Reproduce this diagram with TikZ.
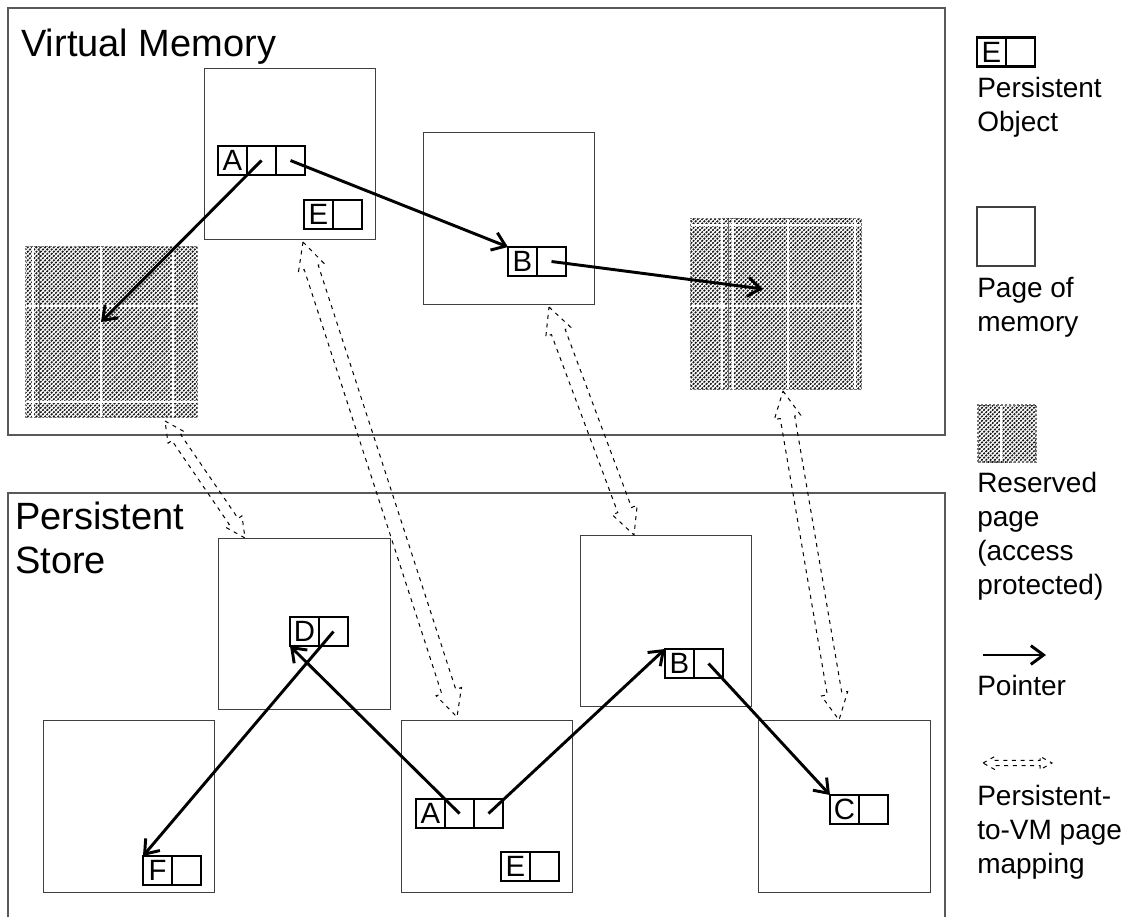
\documentclass[tikz,border=0pt]{standalone}
\usepackage{fontspec}
\setmainfont{Liberation Sans}
\usetikzlibrary{calc,arrows.meta,patterns.meta}

\newcommand\maparrow[5]{%
  \draw[mapline] (#1)
   -- ($(#1)!#3!(#2)!#4!90:(#2)$)
   -- ($(#1)!#3!(#2)!#5!90:(#2)$)
   -- ($(#2)!#3!(#1)!#5!-90:(#1)$)
   -- ($(#2)!#3!(#1)!#4!-90:(#1)$)
   -- (#2)
   -- ($(#2)!#3!(#1)!#4!90:(#1)$)
   -- ($(#2)!#3!(#1)!#5!90:(#1)$)
   -- ($(#1)!#3!(#2)!#5!-90:(#2)$)
   -- ($(#1)!#3!(#2)!#4!-90:(#2)$)
   -- cycle;}

\tikzset{
 page/.style={draw=black!75, line width=0.8pt, minimum width=128.5pt, minimum height=128.5pt, inner sep=0pt, outer sep=0pt},
 reserved/.style={page, draw=black!55, dash pattern=on 1.5pt off 1.5pt, pattern={Lines[angle=45,distance=2.3pt,line width=1.15pt]}, pattern color=black!90},
 cell/.style={draw, line width=2.2pt, minimum width=21.75pt, minimum height=21.75pt, inner sep=0pt, outer sep=0pt, font=\fontsize{22}{26}\selectfont},
 ptr/.style={line width=2.2pt, -{Straight Barb[length=9.5pt,width=14pt]}},
 mapline/.style={line width=0.75pt, dash pattern=on 3pt off 3.5pt},
 titletext/.style={anchor=base west, inner sep=0pt, font=\fontsize{28.5}{33}\selectfont},
 legendtext/.style={anchor=base west, inner sep=0pt, font=\fontsize{21}{25}\selectfont},
 whiteln/.style={white, line width=0.8pt},
 bigbox/.style={draw=black!65, line width=1pt},
}

\begin{document}
\begin{tikzpicture}[x=0.75pt,y=-0.75pt]
\useasboundingbox (0,0) rectangle (1130,917);

% containers
\node[bigbox, minimum width=702.75pt, minimum height=320.25pt, inner sep=0pt, outer sep=0pt] (vm) at (476.5,221.5) {};
\draw[bigbox] (8,917) -- (8,493) -- (945,493) -- (945,917);
\node[titletext] (vmt) at (21,56) {Virtual Memory};
\node[titletext] (pst1) at (15,529) {Persistent};
\node[titletext] (pst2) at (15,573) {Store};

% pages in virtual memory
\node[page] (vp1) at (290,154) {};
\node[page] (vp2) at (509,218.5) {};
\node[reserved] (resL) at (111.5,332) {};
\node[reserved] (resR) at (776,304) {};
% tiling seams of the hatch
\draw[whiteln] (33,247) -- (33,417) (101,247) -- (101,417) (173,247) -- (173,417)
  (26,306) -- (197,306) (26,402) -- (197,402);
\draw[black!60, line width=0.6pt] (39,247) -- (39,417);
\draw[whiteln] (722,219) -- (722,389) (733,219) -- (733,389) (788,219) -- (788,389) (855,219) -- (855,389)
  (691,225) -- (861,225) (691,306) -- (861,306);
\draw[black!60, line width=0.6pt] (728,219) -- (728,389);

% pages in persistent store
\node[page] (sD) at (304.5,624) {};
\node[page] (sF) at (129,806.5) {};
\node[page] (sA) at (487,806.5) {};
\node[page] (sB) at (666,621) {};
\node[page] (sC) at (844.5,806.5) {};

% objects in virtual memory
\node[cell] (vA1) at (232.5,160.5) {A};
\node[cell] (vA2) at (261.5,160.5) {};
\node[cell] (vA3) at (290.5,160.5) {};
\node[cell] (vE1) at (318.5,214.5) {E};
\node[cell] (vE2) at (347.5,214.5) {};
\node[cell] (vB1) at (522.5,261.5) {B};
\node[cell] (vB2) at (551.5,261.5) {};

% objects in persistent store
\node[cell] (sD1) at (304.5,631.5) {D};
\node[cell] (sD2) at (333.5,631.5) {};
\node[cell] (sF1) at (157.5,870.5) {F};
\node[cell] (sF2) at (186.5,870.5) {};
\node[cell] (sA1) at (430.5,813.5) {A};
\node[cell] (sA2) at (459.5,813.5) {};
\node[cell] (sA3) at (488.5,813.5) {};
\node[cell] (sE1) at (515.5,866.5) {E};
\node[cell] (sE2) at (544.5,866.5) {};
\node[cell] (sB1) at (679.5,663.5) {B};
\node[cell] (sB2) at (708.5,663.5) {};
\node[cell] (sC1) at (844.5,809.5) {C};
\node[cell] (sC2) at (873.5,809.5) {};

% pointers
\coordinate (tipL) at (101,322);
\coordinate (tipR) at (763,289);
\draw[ptr] (vA2.center) -- (tipL);
\draw[ptr] (vA3.center) -- (vB1.north west);
\draw[ptr] (vB2.center) -- (tipR);
\draw[ptr] (sA2.center) -- (sD1.south west);
\draw[ptr] (sA3.center) -- (sB1.north west);
\draw[ptr] (sD2.center) -- (sF1.north west);
\draw[ptr] (sB2.center) -- (sC1.north west);

% page mappings
\coordinate (m1a) at (165,421); \coordinate (m1b) at (245,538);
\coordinate (m2a) at (303,242); \coordinate (m2b) at (457,717);
\coordinate (m3a) at (549,307); \coordinate (m3b) at (634,535);
\coordinate (m4a) at (783,391); \coordinate (m4b) at (839,720);
\maparrow{m1a}{m1b}{15pt}{7.5pt}{4pt}
\maparrow{m2a}{m2b}{20pt}{10pt}{5.5pt}
\maparrow{m3a}{m3b}{20pt}{10pt}{5.5pt}
\maparrow{m4a}{m4b}{20pt}{10pt}{5.5pt}

% legend
\node[cell] (lE1) at (991.5,52) {E};
\node[cell] (lE2) at (1020.5,52) {};
\node[legendtext] (lt1) at (977,97) {Persistent};
\node[legendtext] (lt2) at (977,131) {Object};

\node[page, minimum width=43.5pt, minimum height=44.25pt] (lpage) at (1006,236.5) {};
\node[legendtext] (lt3) at (977,297) {Page of};
\node[legendtext] (lt4) at (977,331) {memory};

\node[reserved, minimum width=43.5pt, minimum height=42.75pt] (lres) at (1007,433.5) {};
\draw[whiteln] (1001,406) -- (1001,461);
\node[legendtext] (lt5) at (977,492) {Reserved};
\node[legendtext] (lt6) at (977,526) {page};
\node[legendtext] (lt7) at (977,560) {(access};
\node[legendtext] (lt8) at (977,594) {protected)};

\coordinate (lp1) at (983,655); \coordinate (lp2) at (1046,655);
\draw[ptr] (lp1) -- (lp2);
\node[legendtext] (lt9) at (977,695) {Pointer};

\coordinate (lm1) at (983,763); \coordinate (lm2) at (1052,763);
\maparrow{lm1}{lm2}{9pt}{5pt}{2pt}
\node[legendtext] (lt10) at (977,805) {Persistent-};
\node[legendtext] (lt11) at (977,839) {to-VM page};
\node[legendtext] (lt12) at (977,873) {mapping};
\end{tikzpicture}
\end{document}
